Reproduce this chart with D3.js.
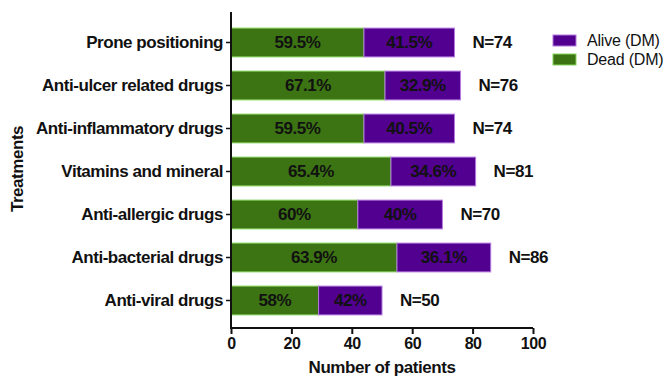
<!DOCTYPE html>
<html>
<head>
<meta charset="utf-8">
<script src="https://cdn.jsdelivr.net/npm/d3@7"></script>
<style>
  html, body { margin: 0; padding: 0; background: #fff; }
  svg { display: block; font-family: "Liberation Sans", Arial, Helvetica, sans-serif; }
  .bold { font-weight: bold; letter-spacing: -0.45px; }
</style>
</head>
<body>
<svg id="chart" width="668" height="377"></svg>
<script>
// Treatments received by diabetic patients, split by outcome
const categories = [
  "Prone positioning",
  "Anti-ulcer related drugs",
  "Anti-inflammatory drugs",
  "Vitamins and mineral",
  "Anti-allergic drugs",
  "Anti-bacterial drugs",
  "Anti-viral drugs"
];
const totals = [74, 76, 74, 81, 70, 86, 50];
const deadPct = ["59.5", "67.1", "59.5", "65.4", "60", "63.9", "58"];
const alivePct = ["41.5", "32.9", "40.5", "34.6", "40", "36.1", "42"];
const xTicks = [0, 20, 40, 60, 80, 100];
const seriesNames = ["Alive (DM)", "Dead (DM)"];

const colors = {
  dead: "#3c7413", deadEdge: "#86d45e",
  alive: "#52008f", aliveEdge: "#b47ae0"
};

const rows = categories.map((c, i) => {
  const dead = totals[i] * (+deadPct[i]) / 100;
  return { cat: c, total: totals[i], dead, deadLabel: deadPct[i] + "%", aliveLabel: alivePct[i] + "%" };
});

const svg = d3.select("#chart");
const x0 = 231, x1 = 533, yTop = 12, yBase = 328;

const x = d3.scaleLinear().domain([0, 100]).range([x0, x1]);
const y = d3.scaleBand().domain(categories).range([21, 322]).paddingInner(0.33).paddingOuter(0.165);

// Bars: dead segment first, alive segment stacked after it
const g = svg.append("g");
g.selectAll("rect.dead").data(rows).join("rect")
  .attr("class", "dead")
  .attr("x", x(0)).attr("y", d => y(d.cat))
  .attr("width", d => x(d.dead) - x(0)).attr("height", y.bandwidth())
  .attr("fill", colors.dead).attr("stroke", colors.deadEdge).attr("stroke-width", 1);
g.selectAll("rect.alive").data(rows).join("rect")
  .attr("class", "alive")
  .attr("x", d => x(d.dead)).attr("y", d => y(d.cat))
  .attr("width", d => x(d.total) - x(d.dead)).attr("height", y.bandwidth())
  .attr("fill", colors.alive).attr("stroke", colors.aliveEdge).attr("stroke-width", 1);

// Percentage labels inside segments
const lblStyle = sel => sel.attr("class", "bold").attr("font-size", 17).attr("fill", "#111")
  .attr("text-anchor", "middle").attr("dominant-baseline", "central");
g.selectAll("text.dl").data(rows).join("text")
  .attr("x", d => (x(0) + x(d.dead)) / 2).attr("y", d => y(d.cat) + y.bandwidth() / 2)
  .text(d => d.deadLabel).call(lblStyle);
g.selectAll("text.al").data(rows).join("text")
  .attr("x", d => (x(d.dead) + x(d.total)) / 2).attr("y", d => y(d.cat) + y.bandwidth() / 2)
  .text(d => d.aliveLabel).call(lblStyle);

// Totals beyond bar ends
g.selectAll("text.n").data(rows).join("text").attr("class", "bold")
  .attr("x", d => x(d.total) + 18).attr("y", d => y(d.cat) + y.bandwidth() / 2)
  .attr("font-size", 17).attr("fill", "#111")
  .attr("dominant-baseline", "central")
  .text(d => "N=" + d.total);

// X axis
const xAxis = svg.append("g").attr("transform", `translate(0,${yBase})`)
  .call(d3.axisBottom(x).tickValues(xTicks).tickSize(6).tickPadding(4).tickFormat(d3.format("d")));
xAxis.select(".domain").attr("stroke", "#111").attr("stroke-width", 2).attr("d", `M${x0 - 1},0H${x1}`);
xAxis.selectAll(".tick line").attr("stroke", "#111").attr("stroke-width", 2);
xAxis.selectAll(".tick text").attr("class", "bold").attr("font-size", 16).attr("fill", "#111")
  .attr("font-family", "Liberation Sans, Arial, sans-serif");

// Y axis
const yAxis = svg.append("g").attr("transform", `translate(${x0},0)`)
  .call(d3.axisLeft(y).tickSize(5).tickPadding(3));
yAxis.select(".domain").attr("stroke", "#111").attr("stroke-width", 2).attr("d", `M0,${yTop}V${yBase + 1}`);
yAxis.selectAll(".tick line").attr("stroke", "#111").attr("stroke-width", 1.5);
yAxis.selectAll(".tick text").attr("class", "bold").attr("font-size", 17).attr("fill", "#111")
  .attr("font-family", "Liberation Sans, Arial, sans-serif");

// Axis titles
svg.append("text").attr("class", "bold").attr("x", (x0 + x1) / 2).attr("y", 373).attr("text-anchor", "middle")
  .attr("font-size", 17).attr("fill", "#111").text("Number of patients");
svg.append("text").attr("class", "bold").attr("transform", "translate(23,169) rotate(-90)").attr("text-anchor", "middle")
  .attr("font-size", 17).attr("fill", "#111").text("Treatments");

// Legend
const legend = svg.append("g").attr("transform", "translate(553,35)");
const legendFill = [colors.alive, colors.dead], legendEdge = [colors.aliveEdge, colors.deadEdge];
seriesNames.forEach((name, i) => {
  const row = legend.append("g").attr("transform", `translate(0,${i * 19})`);
  row.append("rect").attr("width", 23).attr("height", 11)
    .attr("fill", legendFill[i]).attr("stroke", legendEdge[i]).attr("stroke-width", 1);
  row.append("text").attr("x", 34).attr("y", 5.5).attr("dominant-baseline", "central")
    .attr("font-size", 16).attr("letter-spacing", "-0.2px").attr("fill", "#111").text(name);
});
</script>
</body>
</html>
